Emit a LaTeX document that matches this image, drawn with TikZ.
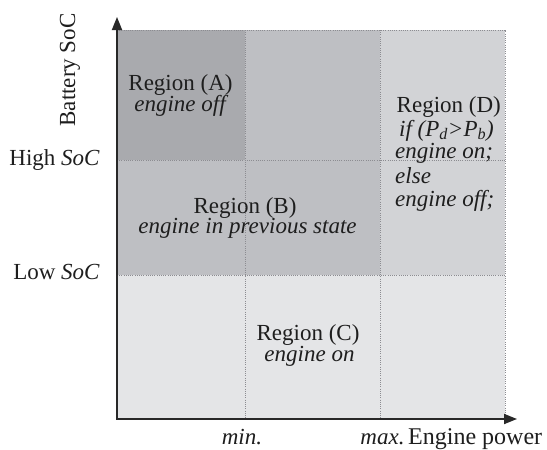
\documentclass[tikz,border=0pt]{standalone}
\usepackage{fontspec}
\setmainfont{Liberation Serif}
\usetikzlibrary{arrows.meta}
\definecolor{cA}{RGB}{169,170,174}
\definecolor{cB}{RGB}{190,191,195}
\definecolor{cD}{RGB}{210,211,214}
\definecolor{cC}{RGB}{228,229,231}
\definecolor{gridc}{RGB}{140,140,145}
\definecolor{axisc}{RGB}{40,40,40}
\definecolor{txt}{RGB}{30,30,30}
\begin{document}
\begin{tikzpicture}[x=1pt,y=-1pt,
  lbl/.style={inner sep=0pt, text=txt, font=\fontsize{23}{27}\selectfont},
  firstline/.style={text depth=0pt},
  gridline/.style={draw=gridc, line width=0.6pt, dash pattern=on 1pt off 1.2pt},
  axisline/.style={draw=axisc, line width=1.8pt, {Triangle[length=13pt,width=10pt]}-{Triangle[length=13pt,width=10pt]}}]
\useasboundingbox (0,0) rectangle (547,450);
% fills
\fill[cC] (117,275) rectangle (505,419);
\fill[cD] (380,30) rectangle (505,275);
\fill[cB] (117,30) rectangle (380,275);
\fill[cA] (117,30) rectangle (245,160);
% grid
\draw[gridline] (117,30) -- (505,30) -- (505,419);
\draw[gridline] (245,30) -- (245,419);
\draw[gridline] (380,30) -- (380,419);
\draw[gridline] (117,160) -- (505,160);
\draw[gridline] (117,275) -- (505,275);
% axes
\coordinate (YT) at (117,17);
\coordinate (XT) at (517,419);
\draw[axisline] (YT) |- (XT);
% axis labels
\node[lbl, rotate=90, anchor=base] (ylab) at (75,70) {Battery SoC};
\node[lbl, anchor=base east] (high) at (100,165) {High \textit{SoC}};
\node[lbl, anchor=base east] (low) at (100,279) {Low \textit{SoC}};
\node[lbl, anchor=base] (min) at (242,444) {\textit{min.}};
\node[lbl, anchor=base] (max) at (382.5,444) {\textit{max.}};
\node[lbl, anchor=base west, font=\fontsize{24}{28}\selectfont] (xlab) at (408,444) {Engine power};
% regions
\node[lbl, firstline, anchor=base] (ra1) at (180.5,90.5) {Region (A)};
\node[lbl, anchor=base] (ra2) at (180,111.5) {\itshape engine off};
\node[lbl, firstline, anchor=base] (rb1) at (245,213) {Region (B)};
\node[lbl, anchor=base] (rb2) at (247.5,233) {\itshape engine in previous state};
\node[lbl, firstline, anchor=base] (rc1) at (308,340) {Region (C)};
\node[lbl, anchor=base] (rc2) at (309.5,361.5) {\itshape engine on};
\node[lbl, firstline, anchor=base west] (rd1) at (396.5,112.5) {Region (D)};
\node[lbl, firstline, anchor=base west] (rd2) at (399,136) {\itshape if (P\smash{\textsubscript{d}}>P\smash{\textsubscript{b}})};
\node[lbl, firstline, anchor=base west] (rd3) at (395,158.5) {\itshape engine on;};
\node[lbl, firstline, anchor=base west] (rd4) at (395,183) {\itshape else};
\node[lbl, anchor=base west] (rd5) at (395,206.5) {\itshape engine off;};
\end{tikzpicture}
\end{document}
